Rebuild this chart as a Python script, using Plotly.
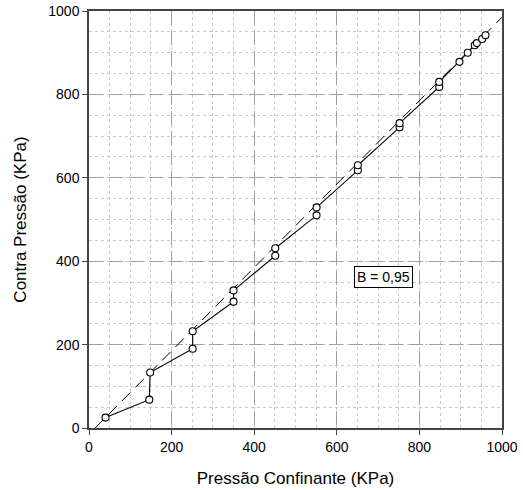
import plotly.graph_objects as go

# Data
pressao_confinante = [40, 146, 148, 251, 251, 350, 350, 451, 451, 551, 551, 651, 651, 752, 752, 848, 848, 897, 917, 934, 939, 952, 960]
contra_pressao = [25, 68, 133, 190, 232, 303, 330, 413, 431, 510, 529, 618, 630, 721, 731, 818, 830, 878, 900, 918, 923, 933, 942]

ref_x = [15, 1000]
ref_y = [0, 985]

x_ticks = [0, 200, 400, 600, 800, 1000]
y_ticks = [0, 200, 400, 600, 800, 1000]
annot_text = "B = 0,95"

FONT = "Liberation Sans, Arial, sans-serif"

fig = go.Figure()
fig.add_trace(go.Scatter(
    x=ref_x, y=ref_y, mode="lines",
    line=dict(color="black", width=1, dash="12px,7px"),
    showlegend=False, hoverinfo="skip"))
fig.add_trace(go.Scatter(
    x=pressao_confinante, y=contra_pressao, mode="lines+markers",
    line=dict(color="black", width=1.1),
    marker=dict(symbol="circle", size=7, color="white", line=dict(color="black", width=1.1)),
    showlegend=False))

axis_common = dict(
    range=[0, 1000], showline=True, linecolor="#444", linewidth=1.5, mirror=True,
    ticks="outside", ticklen=5, tickcolor="#444", tickwidth=1,
    showgrid=True, gridcolor="#a0a0a0", gridwidth=1, griddash="14px,6px",
    zeroline=False, automargin=False,
    minor=dict(dtick=50, showgrid=True, gridcolor="#c8c8c8", griddash="dot", gridwidth=1),
    tickfont=dict(family=FONT, size=14, color="black"),
)

fig.update_xaxes(**axis_common, tickvals=x_ticks,
                 title=dict(text="Pressão Confinante (KPa)", font=dict(family=FONT, size=17, color="black"), standoff=19))
fig.update_yaxes(**axis_common, tickvals=y_ticks,
                 title=dict(text="Contra Pressão (KPa)", font=dict(family=FONT, size=17, color="black"), standoff=17))

fig.add_annotation(x=712, y=361, text=annot_text, showarrow=False,
                   font=dict(family=FONT, size=14, color="black"),
                   bordercolor="black", borderwidth=1, bgcolor="white", borderpad=2)

fig.update_layout(
    width=523, height=490,
    margin=dict(l=89, r=21, t=11, b=62),
    plot_bgcolor="white", paper_bgcolor="white",
)

fig.write_html("out.html", config={"displayModeBar": False},
               post_script="document.body.style.margin='0';")
